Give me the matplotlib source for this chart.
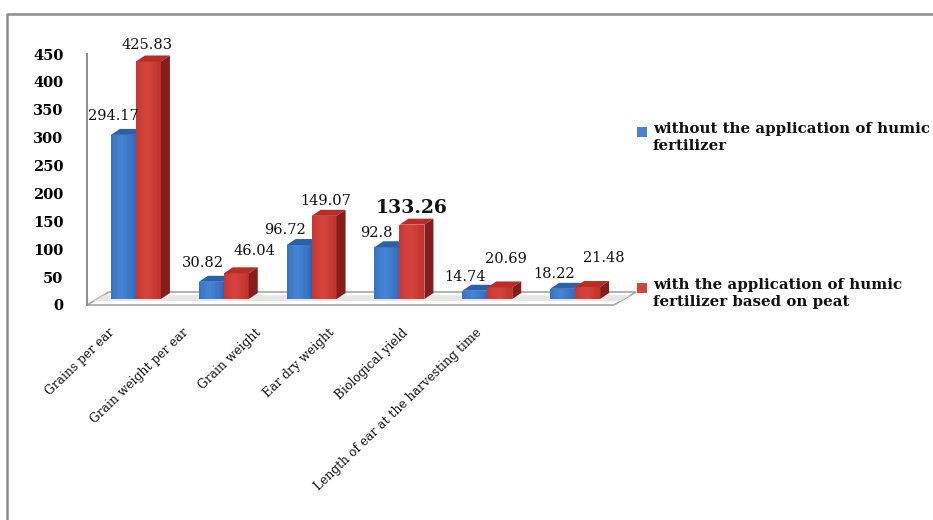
import numpy as np
import matplotlib.pyplot as plt
from matplotlib.colors import to_rgb
from matplotlib.patches import Polygon, Rectangle
from matplotlib.transforms import ScaledTranslation, blended_transform_factory
from matplotlib.lines import Line2D

categories = [
    "Grains per ear",
    "Grain weight per ear",
    "Grain weight",
    "Ear dry weight",
    "Biological yield",
    "Length of ear at the harvesting time",
]
without_humic = [294.17, 30.82, 96.72, 92.8, 14.74, 18.22]
with_humic = [425.83, 46.04, 149.07, 133.26, 20.69, 21.48]
series_names = [
    "without the application of humic\nfertilizer",
    "with the application of humic\nfertilizer based on peat",
]
yticks = [0, 50, 100, 150, 200, 250, 300, 350, 400, 450]

# label nudges in pixels (dx, dy above front top)
BLUE_DX = [-10, -8, -14, -11, -10, -9]
BLUE_DY = [19, 19, 15, 14, 14, 15]
RED_DX = [-1, 18, 2, 0, 6, 16]
RED_DY = [16, 22, 15, 17, 28, 29]

BLUE = {"edge": "#2f66b4", "mid": "#4585d4", "top": "#2c60ab", "side": "#224e8c"}
RED = {"edge": "#bd2f2b", "mid": "#d5433d", "top": "#b92c28", "side": "#841d1b"}
SERIF = "DejaVu Serif"

DPI = 100
fig = plt.figure(figsize=(9.33, 5.2), dpi=DPI)
W, H = 933, 520
ax = fig.add_axes([87 / W, (H - 305) / H, (614 - 87) / W, (305 - 54) / H])
ax.set_xlim(-0.5, len(categories) - 0.5)
ax.set_ylim(0, 450)
ax.patch.set_alpha(0)

px_x = (614 - 87) / len(categories)     # pixels per category
px_y = (305 - 54) / 450.0               # pixels per unit

# 3D floor (thin slab)
fd_x, fd_y = 22 / px_x, 13 / px_y
floor = Polygon([(-0.5, 0), (5.5, 0), (5.5 + fd_x, fd_y), (-0.5 + fd_x, fd_y)],
                closed=True, facecolor="white", edgecolor="#a6a6a6", lw=1.2,
                clip_on=False, zorder=1)
ax.add_patch(floor)
shade = Polygon([(-0.5 + fd_x * 0.3, fd_y * 0.3), (5.5 + fd_x * 0.3, fd_y * 0.3),
                 (5.5 + fd_x * 0.75, fd_y * 0.75), (-0.5 + fd_x * 0.75, fd_y * 0.75)],
                closed=True, facecolor="#e6e6e6", edgecolor="none",
                clip_on=False, zorder=1)
ax.add_patch(shade)

# bars sit set back into the floor
off = ax.transData + ScaledTranslation(5 / DPI, 6 / DPI, fig.dpi_scale_trans)
bw = 25 / px_x
dep_x, dep_y = 9 / px_x, 6 / px_y
x = np.arange(len(categories))
N_STRIP = 10


def bar3d(xl, h, col):
    e, m = np.array(to_rgb(col["edge"])), np.array(to_rgb(col["mid"]))
    sw = bw / N_STRIP
    for k in range(N_STRIP):
        t = (k + 0.5) / N_STRIP
        w = max(0.0, 1 - abs(t - 0.42) / 0.58) ** 0.7
        c = e + (m - e) * w
        ax.add_patch(Rectangle((xl + k * sw, 0), sw * 1.02, h, facecolor=c,
                               edgecolor="none", transform=off, clip_on=False,
                               zorder=3))
    ax.add_patch(Polygon([(xl, h), (xl + bw, h), (xl + bw + dep_x, h + dep_y),
                          (xl + dep_x, h + dep_y)], closed=True,
                         facecolor=col["top"], edgecolor="none",
                         transform=off, clip_on=False, zorder=3))
    ax.add_patch(Polygon([(xl + bw, 0), (xl + bw + dep_x, dep_y),
                          (xl + bw + dep_x, h + dep_y), (xl + bw, h)], closed=True,
                         facecolor=col["side"], edgecolor="none",
                         transform=off, clip_on=False, zorder=3))


for i in range(len(categories)):
    bar3d(x[i] - bw, without_humic[i], BLUE)
    bar3d(x[i], with_humic[i], RED)

# value labels
for i in range(len(categories)):
    for vals, dxs, dys, xc in ((without_humic, BLUE_DX, BLUE_DY, x[i] - bw / 2),
                               (with_humic, RED_DX, RED_DY, x[i] + bw / 2)):
        v = vals[i]
        big = v == 133.26
        ax.annotate(f"{v:g}", (xc, v), xycoords=off,
                    xytext=(dxs[i] * 0.72, dys[i] * 0.72), textcoords="offset points",
                    ha="center", va="center", family=SERIF,
                    fontsize=13.5 if big else 10.5,
                    fontweight="bold" if big else "normal", color="#111111",
                    zorder=5, annotation_clip=False)

# y axis
ax.set_yticks(yticks)
ax.set_yticklabels([str(t) for t in yticks], family=SERIF, fontweight="bold",
                   fontsize=10.5)
ax.tick_params(axis="y", length=0, pad=17)
ax.set_xticks([])
for s in ("top", "right", "bottom"):
    ax.spines[s].set_visible(False)
ax.spines["left"].set_color("#8c8c8c")
ax.spines["left"].set_linewidth(1.4)

# category labels, rotated
lab_tr = blended_transform_factory(ax.transData, fig.transFigure)
for i, name in enumerate(categories):
    ax.text(-0.26 + 0.836 * i, (H - 326) / H, name, transform=lab_tr,
            rotation=44, rotation_mode="anchor", ha="right", va="top",
            family=SERIF, fontsize=8.8, color="#111111")

# legend
for (ly, col, name) in ((132, BLUE, series_names[0]), (288, RED, series_names[1])):
    fig.patches.append(Rectangle((637 / W, (H - ly - 5) / H), 10 / W, 10 / H,
                                 transform=fig.transFigure, facecolor=col["mid"],
                                 edgecolor="none"))
    fig.text(653 / W, (H - ly + 10) / H, name, ha="left", va="top", family=SERIF,
             fontweight="bold", fontsize=10.8, linespacing=1.25, color="#111111")

# outer frame
fig.lines.append(Line2D([7 / W, 7 / W, 1.0], [0, (H - 14) / H, (H - 14) / H],
                        transform=fig.transFigure, color="#8c8c8c", lw=1.8))

fig.savefig("out.png", dpi=DPI)
